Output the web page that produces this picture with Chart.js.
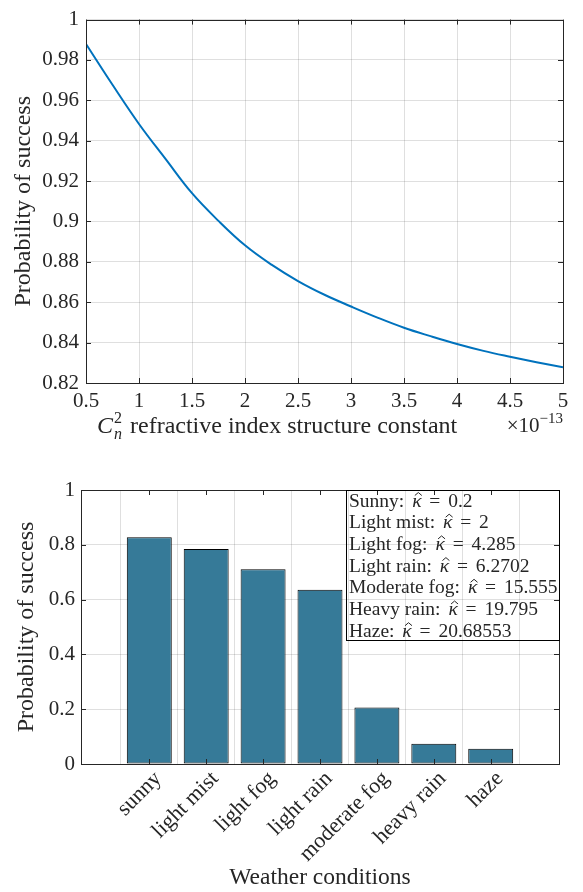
<!DOCTYPE html>
<html>
<head>
<meta charset="utf-8">
<script src="https://cdn.jsdelivr.net/npm/chart.js@4.4.1/dist/chart.umd.min.js"></script>
<style>
  html, body { margin: 0; padding: 0; background: #fff; font-family: "Liberation Serif", serif; }
  #wrap { position: relative; width: 583px; height: 892px; }
  canvas { position: absolute; left: 0; }
</style>
</head>
<body>
<div id="wrap">
  <canvas id="topChart" width="583" height="450" style="top:0"></canvas>
  <canvas id="barChart" width="583" height="442" style="top:450px"></canvas>
</div>
<script>
// top plot: probability of success vs Cn^2 (x10^-13)
const cn2 = [0.5, 0.75, 1, 1.25, 1.5, 1.75, 2, 2.25, 2.5, 2.75, 3, 3.25, 3.5, 3.75, 4, 4.25, 4.5, 4.75, 5];
const probCn2 = [0.9879, 0.9677, 0.9483, 0.9310, 0.9140, 0.9003, 0.8882, 0.8786, 0.8705, 0.8637, 0.8579,
                 0.8524, 0.8474, 0.8432, 0.8393, 0.8359, 0.8330, 0.8303, 0.8278];

// bottom plot: probability of success per weather condition
const weather = ['sunny', 'light mist', 'light fog', 'light rain', 'moderate fog', 'heavy rain', 'haze'];
const probWeather = [0.828, 0.785, 0.711, 0.636, 0.206, 0.074, 0.056];
const kappaNames = ['Sunny', 'Light mist', 'Light fog', 'Light rain', 'Moderate fog', 'Heavy rain', 'Haze'];
const kappaValues = ['0.2', '2', '4.285', '6.2702', '15.555', '19.795', '20.68553'];

const SERIF = "'Liberation Serif', 'DejaVu Serif', serif";
const INK = '#262626';
const GRID = 'rgba(38,38,38,0.15)';

Chart.defaults.font.family = SERIF;
Chart.defaults.font.size = 21;
Chart.defaults.color = INK;

const fmt = v => String(parseFloat(v.toFixed(4)));
const tickFont = { family: SERIF, size: 21 };

// matlab style box + inward ticks
function drawBox(chart) {
  const { ctx, chartArea: a, scales: { x, y } } = chart;
  ctx.save();
  ctx.strokeStyle = INK;
  ctx.lineWidth = 1;
  ctx.beginPath();
  x.ticks.forEach(t => {
    const px = Math.round(x.getPixelForValue(t.value)) + 0.5;
    ctx.moveTo(px, a.bottom); ctx.lineTo(px, a.bottom - 5);
    ctx.moveTo(px, a.top); ctx.lineTo(px, a.top + 5);
  });
  y.ticks.forEach(t => {
    const py = Math.round(y.getPixelForValue(t.value)) + 0.5;
    ctx.moveTo(a.left, py); ctx.lineTo(a.left + 5, py);
    ctx.moveTo(a.right, py); ctx.lineTo(a.right - 5, py);
  });
  ctx.stroke();
  ctx.strokeRect(Math.round(a.left) + 0.5, Math.round(a.top) + 0.5, Math.round(a.width), Math.round(a.height));
  ctx.restore();
}

function drawYTitle(ctx, text, x, y) {
  ctx.save();
  ctx.translate(x, y);
  ctx.rotate(-Math.PI / 2);
  ctx.font = '24px ' + SERIF;
  ctx.fillStyle = INK;
  ctx.textAlign = 'center';
  ctx.textBaseline = 'middle';
  ctx.fillText(text, 0, 0);
  ctx.restore();
}

// draws pieces one after another from x, returns end x
function drawRun(ctx, parts, x, y) {
  parts.forEach(p => {
    ctx.font = p.font;
    const w = ctx.measureText(p.text).width;
    ctx.fillText(p.text, x, y + (p.dy || 0));
    if (p.hat) {
      // circumflex over the symbol
      ctx.save();
      ctx.lineWidth = 1;
      ctx.strokeStyle = INK;
      ctx.beginPath();
      const cx = x + w / 2 + 1.5, top = y - 14;
      ctx.moveTo(cx - 3.5, top + 3); ctx.lineTo(cx, top); ctx.lineTo(cx + 3.5, top + 3);
      ctx.stroke();
      ctx.restore();
    }
    x += w + (p.gap || 0);
  });
  return x;
}

const topDeco = {
  id: 'topDeco',
  afterDatasetsDraw(chart) { drawBox(chart); },
  afterDraw(chart) {
    const { ctx, chartArea: a } = chart;
    drawYTitle(ctx, 'Probability of success', 24, (a.top + a.bottom) / 2);
    ctx.save();
    ctx.fillStyle = INK;
    ctx.textBaseline = 'alphabetic';
    ctx.textAlign = 'left';
    drawRun(ctx, [
      { text: 'C', font: 'italic 24px ' + SERIF, gap: 1 },
      { text: '2', font: '16px ' + SERIF, dy: -10, gap: -8 },
      { text: 'n', font: 'italic 16px ' + SERIF, dy: 6, gap: 2 },
      { text: ' refractive index structure constant', font: '24px ' + SERIF }
    ], 97, 433);
    const exp = '\u221213';
    ctx.font = '15px ' + SERIF;
    const ew = ctx.measureText(exp).width;
    ctx.font = '21px ' + SERIF;
    const bw = ctx.measureText('\u00d710').width;
    drawRun(ctx, [
      { text: '\u00d710', font: '21px ' + SERIF },
      { text: exp, font: '15px ' + SERIF, dy: -9 }
    ], a.right - ew - bw, 432);
    ctx.restore();
  }
};

const barDeco = {
  id: 'barDeco',
  afterDatasetsDraw(chart) { drawBox(chart); },
  afterDraw(chart) {
    const { ctx, chartArea: a } = chart;
    drawYTitle(ctx, 'Probability of success', 27, (a.top + a.bottom) / 2);
    ctx.save();
    ctx.fillStyle = INK;
    ctx.font = '23.5px ' + SERIF;
    ctx.textAlign = 'center';
    ctx.textBaseline = 'alphabetic';
    ctx.fillText('Weather conditions', (a.left + a.right) / 2, 434);
    // legend box with kappa values
    const bx = 346, by = Math.round(a.top) + 0.5, bw = Math.round(a.right) - 346, bh = 150;
    ctx.strokeStyle = '#000';
    ctx.lineWidth = 1;
    ctx.strokeRect(bx + 0.5, by, bw, bh);
    ctx.textAlign = 'left';
    kappaNames.forEach((n, i) => {
      const yy = by + 16 + i * 21.7;
      drawRun(ctx, [
        { text: n + ': ', font: '19.5px ' + SERIF, gap: 3 },
        { text: '\u03ba', font: 'italic 19.5px ' + SERIF, hat: true, gap: 3 },
        { text: ' = ', font: '19.5px ' + SERIF, gap: 3 },
        { text: kappaValues[i], font: '19.5px ' + SERIF }
      ], bx + 3, yy);
    });
    ctx.restore();
  }
};

new Chart(document.getElementById('topChart'), {
  type: 'scatter',
  data: {
    datasets: [{
      data: cn2.map((c, i) => ({ x: c, y: probCn2[i] })),
      showLine: true,
      borderColor: '#0072BD',
      borderWidth: 2,
      pointRadius: 0,
      tension: 0.4
    }]
  },
  options: {
    responsive: false,
    animation: false,
    layout: { padding: { top: 13, right: 20, left: 0, bottom: 0 } },
    plugins: { legend: { display: false }, tooltip: { enabled: false } },
    scales: {
      x: {
        type: 'linear', min: 0.5, max: 5,
        ticks: { stepSize: 0.5, color: INK, font: tickFont, padding: 6, callback: fmt },
        grid: { color: GRID, drawTicks: false },
        border: { display: false },
        afterFit: s => { s.height = 67; }
      },
      y: {
        min: 0.82, max: 1,
        ticks: { stepSize: 0.02, color: INK, font: tickFont, padding: 7, callback: fmt },
        grid: { color: GRID, drawTicks: false },
        border: { display: false },
        afterFit: s => { s.width = 86; }
      }
    }
  },
  plugins: [topDeco]
});

new Chart(document.getElementById('barChart'), {
  type: 'bar',
  data: {
    datasets: [{
      data: probWeather.map((v, i) => ({ x: i + 1, y: v })),
      backgroundColor: '#367A98',
      borderColor: '#000',
      borderWidth: 1,
      borderSkipped: false,
      categoryPercentage: 1,
      barPercentage: 0.79
    }]
  },
  options: {
    responsive: false,
    animation: false,
    layout: { padding: { top: 40, right: 24, left: 0, bottom: 0 } },
    plugins: { legend: { display: false }, tooltip: { enabled: false } },
    scales: {
      x: {
        type: 'linear', min: -0.2, max: 8.2, offset: false,
        afterBuildTicks: s => { s.ticks = weather.map((w, i) => ({ value: i + 1 })); },
        ticks: {
          autoSkip: false, minRotation: 45, maxRotation: 45,
          color: INK, font: { family: SERIF, size: 22 }, padding: 2, labelOffset: 9,
          callback: v => weather[v - 1]
        },
        grid: { color: GRID, drawTicks: false },
        border: { display: false },
        afterFit: s => { s.height = 128; }
      },
      y: {
        min: 0, max: 1,
        ticks: { stepSize: 0.2, color: INK, font: tickFont, padding: 6, callback: fmt },
        grid: { color: GRID, drawTicks: false },
        border: { display: false },
        afterFit: s => { s.width = 81; }
      }
    }
  },
  plugins: [barDeco]
});
</script>
</body>
</html>
